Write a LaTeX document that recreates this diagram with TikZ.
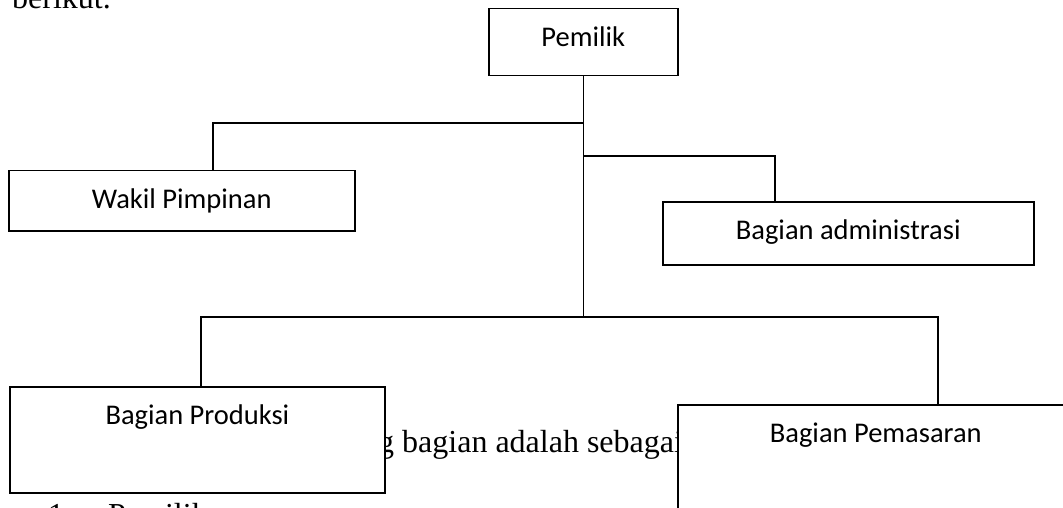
\documentclass[tikz,border=0pt]{standalone}
\usepackage{fontspec}
\setmainfont{Liberation Serif}
\newfontfamily\boxfont{Carlito}
\begin{document}
\begin{tikzpicture}[x=1pt,y=-1pt,
  orgbox/.style={draw, line width=1.5pt, fill=white,
    font=\boxfont\fontsize{28.5}{34}\selectfont,
    inner xsep=0pt, inner ysep=0pt, anchor=north west},
  conn/.style={line width=1.3pt},
  body/.style={font=\fontsize{32}{38}\selectfont, inner sep=0pt, anchor=base west}]
\useasboundingbox (0,0) rectangle (1063,508);
\clip (0,0) rectangle (1063,508);
% body text of the page
\node[body] (t1) at (12,9) {berikut.};
\node[body] (t2) at (378,452) {g bagian adalah sebagai};
\node[body] (t3) at (48,525) {1.};
\node[body] (t4) at (108,525) {Pemilik};
% boxes
\node[orgbox, minimum width=189pt, text height=38pt, text depth=29pt] (pemilik) at (488,8) {Pemilik};
\node[orgbox, minimum width=346pt, text height=38pt, text depth=22pt] (wakil) at (8,170) {Wakil Pimpinan};
\node[orgbox, minimum width=371pt, text height=38pt, text depth=25pt] (admin) at (662,201) {Bagian administrasi};
\node[orgbox, minimum width=375pt, text height=38pt, text depth=68pt, line width=1.8pt] (produksi) at (9,386) {Bagian Produksi};
\node[orgbox, minimum width=396pt, text height=38pt, text depth=120pt] (pemasaran) at (677,404) {Bagian Pemasaran};
% connectors
\coordinate (jw) at (213,123);
\coordinate (ja) at (775,156);
\coordinate (jp) at (201,317);
\coordinate (jm) at (938,317);
\draw[conn] (pemilik.south) -- (pemilik.south |- jp);
\draw[conn] (pemilik.south |- jw) -- (jw) -- (jw |- wakil.north);
\draw[conn] (pemilik.south |- ja) -- (ja) -- (ja |- admin.north);
\draw[conn] (jp |- produksi.north) -- (jp) -- (jm) -- (jm |- pemasaran.north);
\end{tikzpicture}
\end{document}
